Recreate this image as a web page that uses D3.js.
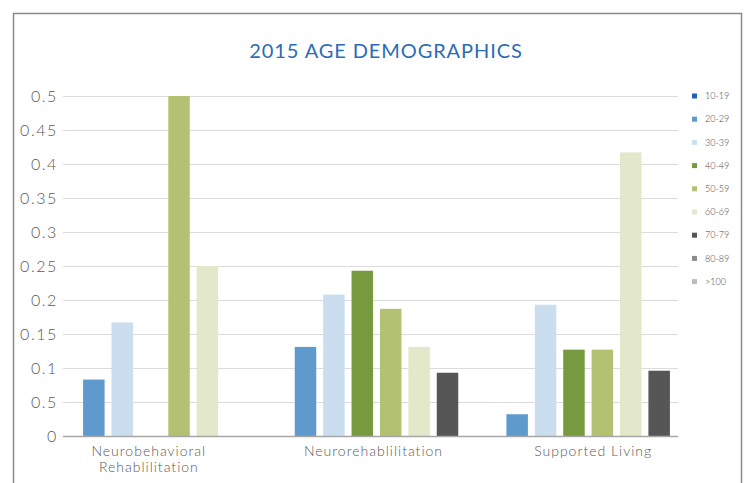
<!DOCTYPE html>
<html>
<head>
<meta charset="utf-8">
<script src="https://cdn.jsdelivr.net/npm/d3@7"></script>
<style>
  body { margin: 0; background: #fff; }
  svg { display: block; }
</style>
</head>
<body>
<div id="chart"></div>
<script>
// chart data
var categories = ["Neurobehavioral Rehablilitation", "Neurorehablilitation", "Supported Living"];
var seriesNames = ["10-19", "20-29", "30-39", "40-49", "50-59", "60-69", "70-79", "80-89", ">100"];
var seriesColors = ["#1f5fb5", "#5e9acb", "#cbdeef", "#789a3e", "#b3c173", "#e3e8cb", "#565656", "#8c8c8c", "#bdbdbd"];

var age10to19 = [null, null, null];
var age20to29 = [0.083, 0.131, 0.032];
var age30to39 = [0.167, 0.208, 0.193];
var age40to49 = [null, 0.243, 0.127];
var age50to59 = [0.5, 0.187, 0.127];
var age60to69 = [0.25, 0.131, 0.417];
var age70to79 = [null, 0.093, 0.096];
var age80to89 = [null, null, null];
var age100plus = [null, null, null];

var yTicks = [0, 0.05, 0.1, 0.15, 0.2, 0.25, 0.3, 0.35, 0.4, 0.45, 0.5];
var yTickLabels = ["0", "0.5", "0.1", "0.15", "0.2", "0.25", "0.3", "0.35", "0.4", "0.45", "0.5"];

var width = 744,
    height = 483;

var gridLeft = 63,
    gridRight = 678,
    plotTop = 96,
    plotBottom = 436;

// the labels under the clusters sit a little off the cluster centres
var labelShift = [-16, -3, 5];

var fontFamily = "Lato, 'Open Sans', sans-serif",
    textColor = "#595959",
    gridColor = "#dcdcdc",
    axisColor = "#a6a6a6";

var allSeries = [age10to19, age20to29, age30to39, age40to49, age50to59,
                 age60to69, age70to79, age80to89, age100plus];

// only series that have values get a slot in each cluster
var usedSeries = seriesNames.filter(function(name, i) {
    return allSeries[i].some(function(v) { return v != null; });
});

var svg = d3.select("#chart").append("svg")
    .attr("width", width)
    .attr("height", height);

// outer frame
svg.append("rect")
    .attr("x", 13.5)
    .attr("y", 13.5)
    .attr("width", 728)
    .attr("height", 490)
    .style("fill", "none")
    .style("stroke", "#8a8a8a")
    .style("stroke-width", 1.5);

svg.append("text")
    .attr("x", 386)
    .attr("y", 58)
    .attr("text-anchor", "middle")
    .attr("font-family", fontFamily)
    .attr("font-size", 20)
    .attr("letter-spacing", 0.9)
    .attr("fill", "#2b6cb5")
    .text("2015 AGE DEMOGRAPHICS");

var y = d3.scaleLinear()
    .domain([0, 0.5])
    .range([plotBottom, plotTop]);

var x0 = d3.scaleBand()
    .domain(categories)
    .range([59, 694])
    .paddingInner(0.195)
    .paddingOuter(0.0975);

var x1 = d3.scaleBand()
    .domain(usedSeries)
    .range([0, x0.bandwidth()])
    .paddingInner(0.243)
    .paddingOuter(0.1215);

// gridlines
svg.append("g").attr("id", "grid")
    .selectAll("line")
    .data(yTicks.filter(function(t) { return t > 0; }))
    .enter().append("line")
    .attr("x1", gridLeft)
    .attr("x2", gridRight)
    .attr("y1", function(t) { return y(t) + 0.5; })
    .attr("y2", function(t) { return y(t) + 0.5; })
    .style("stroke", gridColor)
    .style("stroke-width", 1.2);

// y axis labels only
var yAxis = d3.axisLeft(y)
    .tickValues(yTicks)
    .tickSize(0)
    .tickPadding(0)
    .tickFormat(function(d, i) { return yTickLabels[i]; });

var yG = svg.append("g")
    .attr("transform", "translate(58,0)")
    .call(yAxis);
yG.select(".domain").remove();
yG.selectAll("text")
    .attr("font-family", fontFamily)
    .attr("font-size", 16)
    .attr("font-weight", 300)
    .attr("letter-spacing", 1.6)
    .attr("fill", textColor);

// bars
var barData = [];
seriesNames.forEach(function(name, i) {
    allSeries[i].forEach(function(v, c) {
        if (v != null) {
            barData.push({ series: name, category: categories[c], value: v, color: seriesColors[i] });
        }
    });
});

svg.append("g").attr("id", "bars")
    .selectAll("rect")
    .data(barData)
    .enter().append("rect")
    .attr("x", function(d) { return x0(d.category) + x1(d.series); })
    .attr("y", function(d) { return y(d.value); })
    .attr("width", x1.bandwidth())
    .attr("height", function(d) { return y(0) - y(d.value); })
    .style("fill", function(d) { return d.color; });

// baseline
svg.append("line")
    .attr("x1", gridLeft)
    .attr("x2", gridRight)
    .attr("y1", y(0) + 0.5)
    .attr("y2", y(0) + 0.5)
    .style("stroke", axisColor)
    .style("stroke-width", 1.5);

// category labels (first one wraps on two lines)
var xLabels = svg.append("g").attr("id", "xlabels")
    .selectAll("text")
    .data(categories)
    .enter().append("text")
    .attr("x", function(d, i) { return x0(d) + x0.bandwidth() / 2 + labelShift[i]; })
    .attr("y", 456)
    .attr("text-anchor", "middle")
    .attr("font-family", fontFamily)
    .attr("font-size", 14)
    .attr("font-weight", 300)
    .attr("letter-spacing", 1)
    .attr("fill", textColor);

xLabels.each(function(d) {
    var words = d === "Neurobehavioral Rehablilitation" ? ["Neurobehavioral", "Rehablilitation"] : [d];
    var t = d3.select(this);
    words.forEach(function(w, i) {
        t.append("tspan")
            .attr("x", t.attr("x"))
            .attr("dy", i === 0 ? 0 : 16)
            .text(w);
    });
});

// legend
var legend = svg.append("g").attr("id", "legend")
    .selectAll("g")
    .data(seriesNames)
    .enter().append("g")
    .attr("transform", function(d, i) { return "translate(692," + (96 + i * 23.2) + ")"; });

legend.append("rect")
    .attr("x", 0)
    .attr("y", -2.5)
    .attr("width", 5)
    .attr("height", 5)
    .style("fill", function(d, i) { return seriesColors[i]; });

legend.append("text")
    .attr("x", 13)
    .attr("y", 0)
    .attr("dy", "0.35em")
    .attr("font-family", fontFamily)
    .attr("font-size", 9)
    .attr("font-weight", 300)
    .attr("fill", "#444")
    .text(function(d) { return d; });
</script>
</body>
</html>
